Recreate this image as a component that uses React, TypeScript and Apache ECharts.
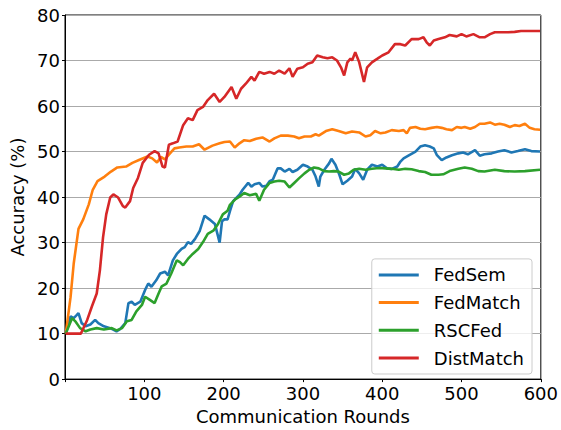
import React, { useEffect, useRef } from "react";
import * as echarts from "echarts";

const seriesNames = ["FedSem", "FedMatch", "RSCFed", "DistMatch"];
const colors = ["#1f77b4", "#ff7f0e", "#2ca02c", "#d62728"];
const yTicks = [0, 10, 20, 30, 40, 50, 60, 70, 80];
const xTicks = [100, 200, 300, 400, 500, 600];

const fedSemRounds = [1, 7, 11, 15, 17, 21, 26, 32, 38, 42, 49, 57, 65, 69, 76, 80, 84, 88, 95, 101, 105, 109, 115, 120, 126, 130, 136, 141, 147, 151, 155, 159, 164, 170, 176, 182, 189, 195, 198, 201, 205, 208, 212, 216, 220, 224, 231, 235, 239, 245, 249, 254, 258, 262, 268, 272, 277, 283, 287, 293, 300, 306, 312, 316, 320, 322, 327, 333, 336, 341, 346, 350, 356, 362, 366, 371, 376, 381, 387, 394, 400, 406, 412, 419, 423, 427, 433, 442, 448, 454, 460, 465, 469, 475, 481, 488, 496, 502, 508, 517, 523, 529, 538, 546, 554, 563, 571, 580, 588, 599];
const fedSemAcc = [10, 13.8, 13.4, 14.1, 14.5, 12.3, 11.6, 12, 13, 12.3, 11.6, 11.2, 10.5, 10.9, 12.3, 16.7, 17, 16.3, 17, 19.6, 21, 20.3, 21.7, 23.2, 23.6, 22.8, 26.1, 27.5, 28.6, 29, 30.1, 29.7, 30.8, 32.6, 35.9, 35.1, 34.1, 30, 34.7, 35.1, 35.1, 36.9, 39.1, 39.8, 40.5, 41.6, 43.1, 42.3, 42.8, 43.1, 42.3, 42.5, 43.5, 43.8, 46.3, 46.3, 45.6, 46.2, 45.5, 46, 47.1, 46.7, 46, 44.5, 42.3, 44.5, 46, 47.4, 48.4, 47.1, 44.9, 42.8, 43.6, 44.5, 46.2, 45.2, 43.8, 46, 47.1, 46.7, 47.1, 46.3, 46.2, 46.7, 47.8, 48.5, 49.1, 50, 51.1, 51.4, 51.1, 50.7, 49.2, 48.1, 48.7, 49.2, 49.6, 49.8, 49.4, 50.3, 49.1, 49.4, 49.6, 50, 50.3, 49.8, 50.1, 50.5, 50.1, 50];

const fedMatchRounds = [1, 7, 11, 17, 23, 30, 35, 41, 50, 58, 66, 77, 85, 94, 104, 110, 116, 121, 126, 131, 138, 144, 153, 161, 169, 176, 186, 195, 201, 208, 214, 220, 226, 233, 241, 249, 258, 264, 272, 281, 289, 295, 302, 310, 316, 320, 329, 337, 345, 354, 362, 371, 379, 385, 391, 398, 404, 412, 421, 427, 431, 435, 442, 448, 454, 462, 469, 475, 481, 488, 494, 500, 504, 511, 517, 523, 529, 536, 542, 548, 554, 561, 567, 573, 580, 586, 592, 599];
const fedMatchAcc = [10, 18, 25.4, 33, 35.1, 38.4, 41.6, 43.5, 44.5, 45.6, 46.5, 46.7, 47.5, 48.2, 48.9, 48.5, 47.6, 48.8, 48.3, 49.3, 50.7, 50.9, 51.1, 51.1, 51.6, 50.4, 51.3, 51.8, 52.1, 52.2, 50.9, 51.8, 52.5, 52.3, 52.8, 53.1, 52.2, 52.9, 53.5, 53.5, 53.3, 52.9, 53.3, 53.3, 53.8, 53.5, 54.5, 54.9, 54.5, 54, 54.4, 54.2, 53.3, 53.6, 54.5, 54, 54.2, 54.7, 54.5, 54.7, 54, 55.2, 55.4, 55, 54.9, 55.2, 55.4, 55.2, 54.9, 54.7, 55.4, 55.2, 55.4, 55, 55.4, 56.1, 56.1, 56.4, 55.9, 56.1, 55.9, 55.4, 55.8, 55.6, 56.1, 55.2, 54.9, 54.8];

const rscFedRounds = [1, 9, 13, 19, 26, 32, 40, 49, 59, 65, 72, 78, 84, 90, 97, 101, 107, 113, 118, 122, 128, 134, 141, 145, 149, 155, 161, 168, 174, 180, 187, 193, 199, 205, 208, 214, 220, 226, 233, 241, 245, 251, 258, 264, 270, 277, 283, 289, 295, 302, 308, 314, 320, 327, 333, 339, 345, 352, 358, 364, 371, 379, 387, 396, 404, 412, 421, 429, 437, 446, 454, 462, 471, 477, 485, 496, 504, 513, 521, 529, 542, 554, 567, 580, 599];
const rscFedAcc = [10, 13.4, 12.7, 11.2, 10.5, 10.9, 11.2, 10.9, 11.2, 10.7, 11.2, 12.7, 13, 14.9, 16.3, 18.1, 17.4, 16.7, 18.8, 20.4, 21, 23.2, 26.1, 25.7, 25, 26.4, 27.5, 28.6, 30.1, 31.9, 32.6, 34.1, 36.2, 37, 38.3, 39.4, 40.1, 40.9, 40.4, 40.7, 39.2, 41.6, 43.1, 43.4, 43.6, 43.4, 42.1, 43.1, 44.1, 45.2, 46, 46.5, 46.3, 45.7, 45.6, 45.7, 45.6, 44.9, 45.2, 46, 46.2, 46, 46.2, 46.4, 46.3, 46.2, 46, 46.2, 46.1, 45.7, 45.5, 44.9, 44.9, 45, 45.7, 46.2, 46.5, 46.2, 45.7, 45.6, 46, 45.7, 45.6, 45.7, 46];

const distMatchRounds = [1, 20, 28, 34, 40, 44, 48, 52, 57, 61, 67, 73, 76, 82, 86, 92, 98, 106, 113, 118, 123, 126, 131, 136, 142, 149, 155, 161, 167, 174, 180, 188, 195, 201, 210, 216, 222, 228, 235, 239, 245, 251, 258, 264, 270, 277, 283, 287, 293, 300, 306, 312, 318, 325, 331, 337, 343, 348, 352, 356, 360, 362, 366, 371, 377, 381, 387, 394, 400, 408, 416, 423, 429, 437, 446, 452, 456, 460, 465, 471, 479, 485, 494, 500, 506, 515, 523, 529, 536, 542, 550, 559, 567, 575, 584, 592, 599];
const distMatchAcc = [10, 10, 13, 16, 18.8, 23.9, 31.2, 36.2, 39.9, 40.6, 39.9, 38, 37.7, 39.1, 42, 44.2, 47.5, 49.3, 50.1, 49.6, 46.7, 46.5, 51.5, 51.8, 52.2, 55.8, 57.3, 56.9, 59.1, 59.8, 61.3, 62.7, 60.9, 62, 64.2, 61.6, 63.8, 64.9, 66.4, 65.6, 67.5, 67.1, 67.5, 67.1, 67.8, 67.1, 68.3, 66.4, 68.2, 68.5, 69.3, 69.6, 71.1, 70.7, 70.5, 70.7, 70, 68.5, 66.7, 69.6, 70.4, 70, 71.8, 69.6, 65.3, 68.5, 69.6, 70.4, 71.1, 71.8, 73.6, 73.6, 73.3, 74.7, 74.7, 75.1, 74, 73.3, 74.4, 74.7, 75.1, 75.6, 75.3, 75.8, 75.3, 75.8, 75.1, 75.1, 75.8, 76.2, 76.2, 76.2, 76.3, 76.5, 76.5, 76.5, 76.5];

const allRounds = [fedSemRounds, fedMatchRounds, rscFedRounds, distMatchRounds];
const allAcc = [fedSemAcc, fedMatchAcc, rscFedAcc, distMatchAcc];

const FONT = "DejaVu Sans";

export default function App() {
  const ref = useRef<HTMLDivElement>(null);
  useEffect(() => {
    if (!ref.current) return;
    const chart = echarts.init(ref.current, undefined, { renderer: "svg" });
    chart.setOption({
      animation: false,
      backgroundColor: "#ffffff",
      textStyle: { fontFamily: FONT },
      grid: {
        left: 65,
        right: 19,
        top: 15,
        bottom: 47,
        show: true,
        borderColor: "#000000",
        borderWidth: 1,
        backgroundColor: "transparent",
      },
      legend: {
        data: seriesNames,
        orient: "vertical",
        right: 29,
        bottom: 56,
        icon: "rect",
        itemWidth: 40,
        itemHeight: 3,
        itemGap: 9.7,
        padding: [7, 8, 7, 7],
        backgroundColor: "rgba(255,255,255,0.8)",
        borderColor: "#cccccc",
        borderWidth: 1,
        borderRadius: 3,
        textStyle: { fontFamily: FONT, fontSize: 18, color: "#000", padding: [0, 0, 0, 10] },
      },
      xAxis: {
        type: "value",
        min: 0,
        max: 600,
        interval: 100,
        name: "Communication Rounds",
        nameLocation: "middle",
        nameGap: 27,
        nameTextStyle: { fontFamily: FONT, fontSize: 18, color: "#000" },
        axisLine: { show: true, lineStyle: { color: "#000", width: 1 } },
        axisTick: { show: true, length: 3, lineStyle: { color: "#000" } },
        axisLabel: {
          fontFamily: FONT,
          fontSize: 18,
          color: "#000",
          margin: 5,
          formatter: (v: number) => (xTicks.includes(v) ? String(v) : ""),
        },
        splitLine: { show: false },
      },
      yAxis: {
        type: "value",
        min: yTicks[0],
        max: yTicks[yTicks.length - 1],
        interval: 10,
        name: "Accuracy (%)",
        nameLocation: "middle",
        nameGap: 33,
        nameTextStyle: { fontFamily: FONT, fontSize: 18, color: "#000" },
        axisLine: { show: true, lineStyle: { color: "#000", width: 1 } },
        axisTick: { show: true, length: 3, lineStyle: { color: "#000" } },
        axisLabel: { fontFamily: FONT, fontSize: 18, color: "#000", margin: 5 },
        splitLine: { show: true, lineStyle: { color: "#aaaaaa", width: 1 } },
      },
      series: seriesNames.map((name, i) => ({
        name,
        type: "line",
        data: allRounds[i].map((r, j) => [r, allAcc[i][j]]),
        showSymbol: false,
        symbol: "none",
        color: colors[i],
        lineStyle: { color: colors[i], width: 2.6 },
        z: 2 + i,
      })),
    });
    return () => chart.dispose();
  }, []);
  return (
    <div
      ref={ref}
      style={{ position: "fixed", left: 0, top: 0, width: 561, height: 430 }}
    />
  );
}
